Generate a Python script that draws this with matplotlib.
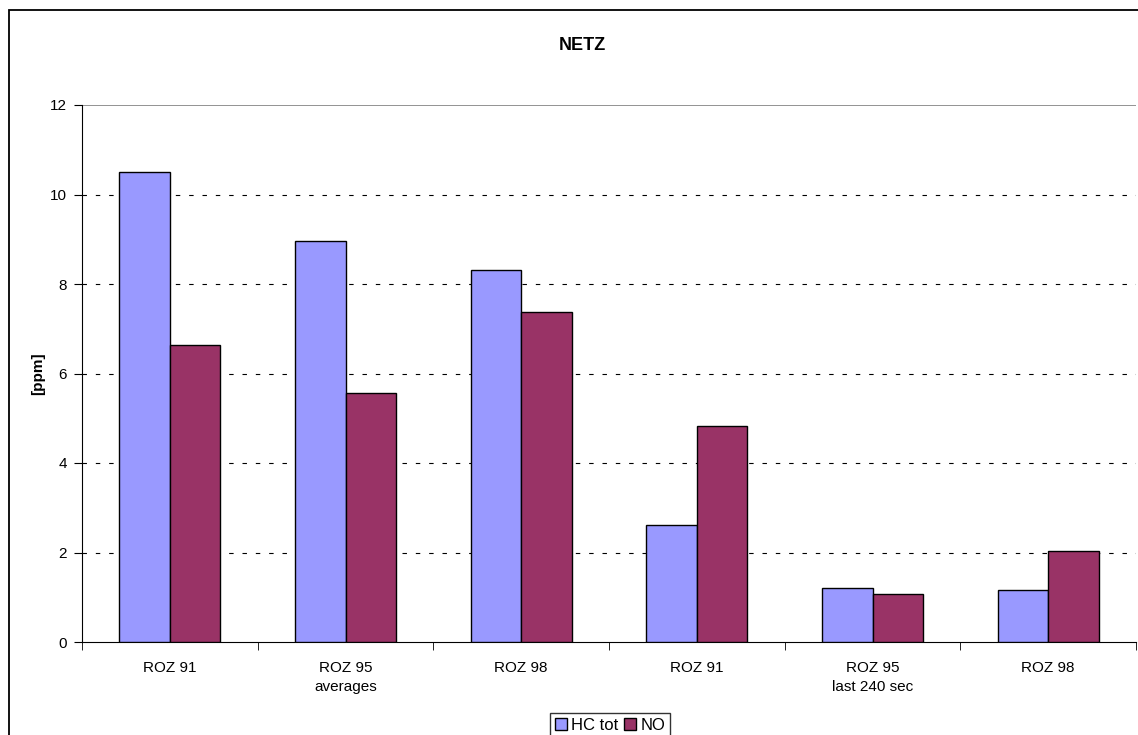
import numpy as np
import matplotlib.pyplot as plt
from matplotlib.patches import Rectangle

categories = ["ROZ 91", "ROZ 95\naverages", "ROZ 98", "ROZ 91", "ROZ 95\nlast 240 sec", "ROZ 98"]
hc_tot = [10.5, 8.97, 8.32, 2.61, 1.21, 1.17]
no_vals = [6.63, 5.57, 7.38, 4.83, 1.07, 2.03]

plt.rcParams['font.family'] = ['Liberation Sans', 'DejaVu Sans']

fig = plt.figure(figsize=(11.38, 7.35), dpi=100)
ax = fig.add_axes([82 / 1138, 93 / 735, 1054 / 1138, 537 / 735])

# chart border (runs off the right and bottom edges)
fig.patches.append(Rectangle((9 / 1138, -0.05), 1.2, 1.05 - 10 / 735,
                             transform=fig.transFigure, fill=False,
                             edgecolor="black", linewidth=1.3))

x = np.arange(len(categories))
w = 0.287
ax.bar(x - w / 2, hc_tot, w, color="#9999FF", edgecolor="black", linewidth=1, label="HC tot", zorder=3)
ax.bar(x + w / 2, no_vals, w, color="#993366", edgecolor="black", linewidth=1, label="NO", zorder=3)

ax.set_xlim(-0.5, len(categories) - 0.5)
ax.set_ylim(0, 12)
ax.set_yticks(range(0, 13, 2))
ax.tick_params(axis="y", labelsize=11, length=6, direction="out", pad=5)

for v in range(2, 12, 2):
    ax.axhline(v, color="black", linestyle=(0, (4, 8)), linewidth=0.8, zorder=1)
ax.axhline(12, color="#808080", linewidth=1.2, zorder=1)

ax.set_xticks(x)
ax.set_xticklabels(categories, fontsize=11, linespacing=1.45)
ax.tick_params(axis="x", length=0, pad=14)
ax.set_xticks(np.arange(len(categories) + 1) - 0.5, minor=True)
ax.tick_params(axis="x", which="minor", length=6, direction="out")

for s in ["top", "right"]:
    ax.spines[s].set_visible(False)
ax.spines["left"].set_color("black")
ax.spines["bottom"].set_color("black")

ax.set_ylabel("[ppm]", fontsize=11, fontweight="bold", labelpad=3)
fig.text(582 / 1138, 1 - 45 / 735, "NETZ", ha="center", va="center", fontsize=13, fontweight="bold")

fig.legend(loc="center", bbox_to_anchor=(610 / 1138, 1 - 725 / 735), ncol=2,
           fontsize=12, frameon=True, fancybox=False, edgecolor="black",
           handlelength=0.75, handleheight=0.75, handletextpad=0.25, columnspacing=0.3,
           borderpad=0.3, borderaxespad=0)

fig.savefig("out.png", dpi=100)
